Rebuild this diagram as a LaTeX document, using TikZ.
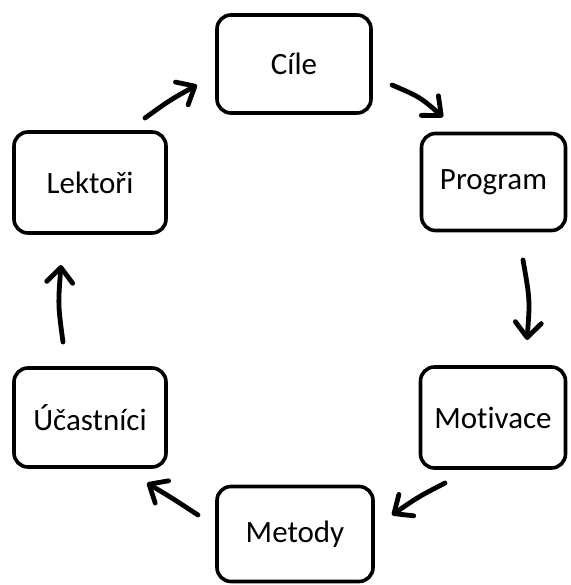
\documentclass[tikz,border=0pt]{standalone}
\usepackage{fontspec}
\setmainfont{Carlito}[Ligatures={NoCommon}]
\usetikzlibrary{arrows.meta}
\begin{document}
\begin{tikzpicture}[x=1pt,y=-1pt,
  box/.style={draw, line width=3.6pt, rounded corners=14pt, inner sep=0pt, font=\fontsize{31}{37}\selectfont},
  conn/.style={line width=4.8pt, line cap=round, -{Straight Barb[length=15pt,width=26pt,line cap=round,round]}}]
\useasboundingbox (0,0) rectangle (570,585);
\node[box, minimum width=154pt, minimum height=98pt] (cile) at (294,64) {Cíle};
\node[box, minimum width=144pt, minimum height=97pt] (program) at (493.5,182) {Program};
\node[box, minimum width=145pt, minimum height=101pt] (motivace) at (493,417.5) {Motivace};
\node[box, minimum width=156pt, minimum height=95pt] (metody) at (295,534) {Metody};
\node[box, minimum width=152pt, minimum height=99pt] (ucastnici) at (90,417.5) {Účastníci};
\node[box, minimum width=152pt, minimum height=101pt] (lektori) at (90,182.5) {Lektoři};
\coordinate (a1s) at (392,85);  \coordinate (a1e) at (443,117);
\coordinate (a2s) at (523,260); \coordinate (a2e) at (527,340);
\coordinate (a3s) at (445,483); \coordinate (a3e) at (392,515);
\coordinate (a4s) at (198,515); \coordinate (a4e) at (147,483);
\coordinate (a5s) at (63,342);  \coordinate (a5e) at (61,265);
\coordinate (a6s) at (145,118); \coordinate (a6e) at (197,85);
\draw[conn] (a1s) .. controls (420,97) .. (a1e);
\draw[conn] (a2s) .. controls (530,300) .. (a2e);
\draw[conn] (a3s) .. controls (418,497) .. (a3e);
\draw[conn] (a4s) .. controls (172,498) .. (a4e);
\draw[conn] (a5s) .. controls (58,305) .. (a5e);
\draw[conn] (a6s) .. controls (170,100) .. (a6e);
\end{tikzpicture}
\end{document}
